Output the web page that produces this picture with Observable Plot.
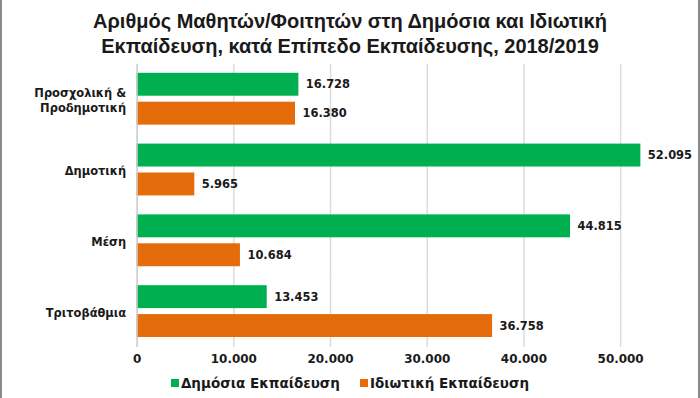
<!DOCTYPE html>
<html>
<head>
<meta charset="utf-8">
<script src="https://cdn.jsdelivr.net/npm/d3@7"></script>
<script src="https://cdn.jsdelivr.net/npm/@observablehq/plot@0.6"></script>
<style>
  html, body { margin: 0; padding: 0; background: #fff; }
  #wrap { position: relative; width: 700px; height: 398px; overflow: hidden; box-sizing: border-box; border-left: 2px solid #8a8a8a; border-right: 2px solid #8a8a8a; }
  #title { position: absolute; left: 0; top: 9px; width: 696px; text-align: center; font-family: "Liberation Sans", Arial, sans-serif; font-weight: bold; font-size: 20px; line-height: 25px; color: #1a1a1a; }
  #chart { position: absolute; left: -2px; top: 0; }
  #legend { position: absolute; left: 0; top: 375px; width: 696px; text-align: center; font-family: "DejaVu Sans", Verdana, sans-serif; font-weight: bold; font-size: 13.5px; color: #1a1a1a; white-space: nowrap; }
  .item { display: inline-block; margin: 0 10px; }
  .sw { display: inline-block; width: 8px; height: 8px; margin-right: 2px; vertical-align: 1px; }
</style>
</head>
<body>
<div id="wrap">
  <div id="title">Αριθμός Μαθητών/Φοιτητών στη Δημόσια και Ιδιωτική<br>Εκπαίδευση, κατά Επίπεδο Εκπαίδευσης, 2018/2019</div>
  <div id="chart"></div>
  <div id="legend"></div>
</div>
<script>
const categories = ["Προσχολική &\nΠροδημοτική", "Δημοτική", "Μέση", "Τριτοβάθμια"];
const seriesNames = ["Δημόσια Εκπαίδευση", "Ιδιωτική Εκπαίδευση"];
const publicValues = [16728, 52095, 44815, 13453];
const privateValues = [16380, 5965, 10684, 36758];
const xTicks = [0, 10000, 20000, 30000, 40000, 50000];
const colors = ["#00B050", "#E46C0A"];

const loc = d3.formatLocale({decimal: ",", thousands: ".", grouping: [3], currency: ["", "€"]});
const fmt = loc.format(",d");

const rows = [];
categories.forEach((c, i) => {
  rows.push({category: c, series: seriesNames[0], value: publicValues[i]});
  rows.push({category: c, series: seriesNames[1], value: privateValues[i]});
});

const font = "DejaVu Sans, Verdana, sans-serif";

const chart = Plot.plot({
  width: 700,
  height: 370,
  marginTop: 62,
  marginBottom: 21,
  marginLeft: 137,
  marginRight: 49,
  style: {fontFamily: font, fontSize: "12px", fontWeight: "bold", color: "#1a1a1a", background: "transparent", overflow: "visible"},
  x: {domain: [0, 53000], ticks: xTicks, tickFormat: fmt, tickSize: 0, tickPadding: 7, label: null, grid: false},
  y: {domain: seriesNames, axis: null, paddingInner: 0.2, paddingOuter: 0.3},
  fy: {domain: categories, axis: null, padding: 0},
  color: {domain: seriesNames, range: colors},
  marks: [
    Plot.ruleX(xTicks.slice(1), {stroke: "#dcdcdc", strokeWidth: 1.5, strokeOpacity: 1}),
    Plot.barX(rows, {x: "value", y: "series", fy: "category", fill: "series"}),
    Plot.ruleX([0], {stroke: "#c8c8c8", strokeWidth: 1.5}),
    Plot.text(rows, {x: "value", y: "series", fy: "category", text: d => fmt(d.value), textAnchor: "start", dx: 7, fontSize: 11.5, fontWeight: "bold", fill: "#1a1a1a"}),
    Plot.text(categories, {fy: d => d, text: d => d, frameAnchor: "left", textAnchor: "end", dx: -11, fontSize: 11.5, fontWeight: "bold", fill: "#1a1a1a", lineHeight: 1.3})
  ]
});
document.getElementById("chart").appendChild(chart);

const legend = document.getElementById("legend");
seriesNames.forEach((s, i) => {
  const item = document.createElement("span");
  item.className = "item";
  const sw = document.createElement("span");
  sw.className = "sw";
  sw.style.background = colors[i];
  item.appendChild(sw);
  item.appendChild(document.createTextNode(s));
  legend.appendChild(item);
});
</script>
</body>
</html>
